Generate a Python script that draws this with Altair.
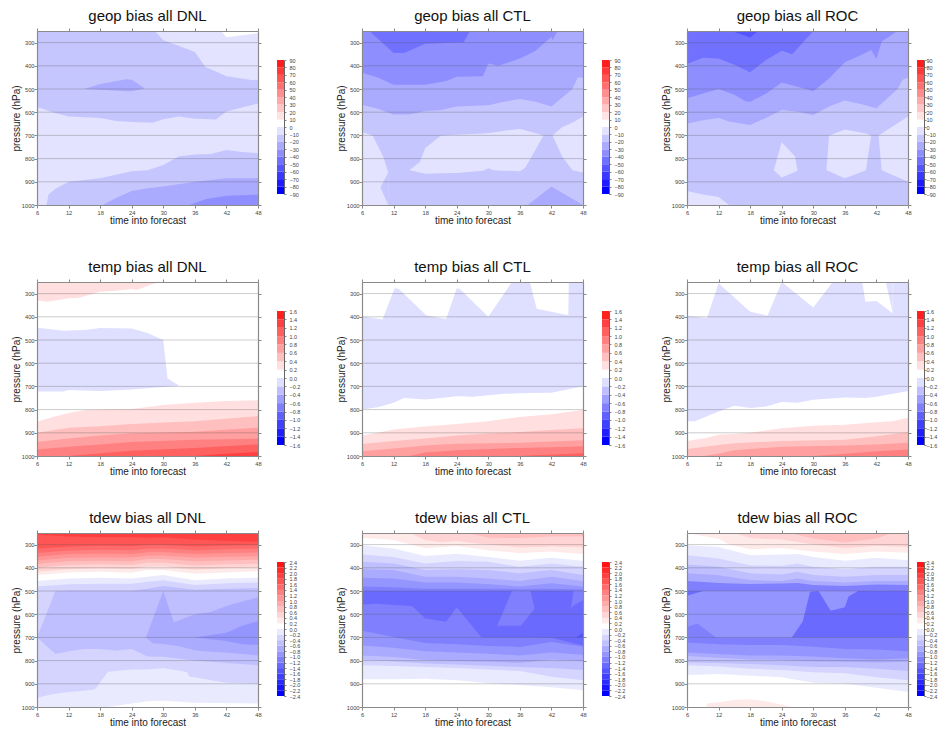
import altair as alt
import pandas as pd

FONT = "Liberation Sans"
X_TICKS = [6, 12, 18, 24, 30, 36, 42, 48]
Y_TICKS = [300, 400, 500, 600, 700, 800, 900, 1000]
GRID = [300, 400, 500, 600, 700, 800, 900]
X9 = [6, 12, 18, 24, 27, 30, 36, 42, 48]
X8 = X_TICKS

# Each region: (lower bound of its colour band, forecast hours, upper pressure edge, lower pressure edge)
GEOP_DNL = [
    (-20, [6, 48], 250, 1000),
    (-10, [28.4, 30, 33, 36, 38, 40, 42, 44, 47, 48], 250, [250, 290, 315, 340, 405, 425, 445, 452, 462, 460]),
    (0, [41, 42, 48], 250, [250, 277, 260]),
    (-30, [15, 18, 23, 24, 26.5], [500, 478, 458, 460, 498], [500, 503, 510, 510, 498]),
    (-10, [6, 9, 12, 15, 18, 21, 24, 28, 30, 33, 36, 40, 42, 48],
     [578, 600, 618, 622, 625, 638, 642, 645, 630, 618, 628, 632, 597, 562], 1000),
    (-20, [7.8, 8.2, 9.5, 12, 18, 21, 24, 27, 30, 33, 36, 39, 42, 45, 48],
     [1000, 955, 930, 900, 885, 870, 855, 850, 828, 790, 782, 780, 763, 772, 777], 1000),
    (-30, [18.5, 21, 24, 27, 30, 36, 42, 48], [1000, 970, 940, 928, 920, 900, 885, 885], 1000),
    (-40, [35, 38, 42, 48], [1000, 975, 960, 955], 1000),
]
GEOP_CTL = [
    (-20, [6, 48], 250, 1000),
    (-30, [6, 9, 12, 15, 18, 21, 24, 30, 33, 36, 39, 42, 46, 47, 48], 250,
     [568, 585, 610, 610, 595, 590, 575, 570, 555, 543, 555, 575, 500, 450, 450]),
    (-40, [6, 9, 12, 18, 22, 24, 29, 30, 32, 36, 39, 42, 42.2, 43, 44], 250,
     [430, 450, 482, 482, 465, 447, 445, 390, 400, 368, 335, 275, 290, 255, 250]),
    (-50, [7.4, 12, 14, 18, 24, 25.3, 26.5], 250, [250, 345, 345, 305, 300, 300, 250]),
    (-10, [6, 8, 9, 10, 11], [685, 700, 745, 790, 860], 1000),
    (-20, [9.5, 11], [925, 860], [925, 1000]),
    (-10, [15, 17, 18, 21, 24, 29, 30, 31, 33, 36, 37, 40.5],
     [850, 815, 755, 700, 697, 692, 690, 688, 680, 672, 678, 700],
     [850, 860, 865, 863, 862, 852, 842, 850, 852, 855, 840, 700]),
    (-10, [42.2, 44, 46, 48], [700, 665, 645, 618], [700, 790, 850, 860]),
    (-30, [37.5, 42, 48], [1000, 920, 1000], 1000),
]
GEOP_ROC = [
    (-20, [6, 48], 250, 1000),
    (-30, [6, 9, 12, 14, 18, 21, 24, 27, 30, 33, 36, 39, 42, 46, 47, 48], 250,
     [650, 635, 625, 640, 655, 625, 590, 598, 612, 575, 550, 565, 583, 500, 460, 450]),
    (-40, [6, 12, 15, 17, 18, 21, 24, 27, 30, 33, 36, 39, 41, 42, 43, 46], 250,
     [540, 500, 525, 552, 555, 520, 472, 490, 510, 455, 385, 355, 332, 370, 295, 250]),
    (-50, [6, 9, 12, 15, 18, 21, 24, 26, 30], 250, [392, 365, 368, 395, 428, 375, 335, 350, 250]),
    (-60, [14.5, 18, 19.5], 250, [250, 278, 250]),
    (-10, [6, 9, 12, 14], [940, 955, 965, 1000], 1000),
    (-10, [22.5, 24, 26.5, 27], [850, 730, 790, 850], [850, 882, 858, 850]),
    (-10, [32.5, 33, 36, 40, 41], [850, 700, 675, 692, 700], [850, 855, 885, 850, 700]),
    (-10, [42.4, 43, 48], [700, 692, 618], [700, 850, 900]),
]
TEMP_DNL = [
    (0, [6, 48], 250, 1000),
    (0.2, [6, 8, 12, 14, 18, 21, 24, 25, 29], 250, [330, 335, 320, 318, 292, 288, 280, 285, 250]),
    (-0.2, [6, 9, 11, 12, 15, 18, 24, 27, 30, 30.8, 33],
     [447, 455, 460, 459, 457, 448, 450, 470, 500, 665, 697],
     [722, 722, 722, 716, 718, 720, 713, 708, 703, 701, 697]),
    (0.2, [6, 9, 12, 15, 18, 24, 30, 36, 42, 48], [852, 832, 815, 803, 800, 797, 780, 770, 763, 760], 1000),
    (0.4, [6, 12, 18, 24, 36, 48], [900, 878, 872, 862, 850, 828], 1000),
    (0.6, [6, 12, 18, 24, 36, 48], [940, 925, 912, 902, 895, 878], 1000),
    (0.8, [6, 12, 18, 24, 36, 48], [972, 960, 950, 940, 930, 925], 1000),
    (1.0, [12, 24, 36, 48], [1000, 977, 965, 950], 1000),
    (1.2, [36, 42, 48], [1000, 990, 983], 1000),
]
TEMP_CTL = [
    (0, [6, 48], 250, 1000),
    (-0.2, [6, 9.9, 12.2, 13, 18.2, 22, 24, 24.6, 30, 34.5, 37.9, 39.2, 45.2, 45.3, 48],
     [398, 412, 277, 280, 393, 410, 277, 280, 400, 250, 250, 365, 393, 250, 250], 1000),
    (0, [6, 9, 12, 14, 18, 21, 24, 27, 30, 33, 36, 42, 45, 48],
     [800, 790, 770, 750, 757, 750, 742, 745, 738, 732, 730, 727, 713, 700], 1000),
    (0.2, [6, 9, 12, 18, 24, 30, 36, 42, 48], [912, 900, 886, 873, 862, 850, 832, 820, 802], 1000),
    (0.4, [6, 12, 18, 24, 30, 36, 42, 48], [948, 935, 925, 912, 903, 897, 888, 880], 1000),
    (0.6, [6, 12, 18, 24, 30, 36, 42, 48], [980, 968, 955, 947, 945, 943, 938, 932], 1000),
    (0.8, [15, 18, 24, 36, 42, 48], [1000, 985, 975, 965, 962, 958], 1000),
    (1.0, [36, 38, 48], [1000, 998, 988], 1000),
]
TEMP_ROC = [
    (0, [6, 48], 250, 1000),
    (-0.2, [6, 9.8, 12, 18, 21.3, 24, 30, 33.7, 39.3, 39.9, 42, 45.1, 45.2, 48],
     [395, 405, 255, 378, 395, 250, 360, 250, 250, 335, 332, 385, 250, 250], 1000),
    (-0.2, [43.8, 45.1], 250, [250, 385]),
    (0, [6, 7.5, 12, 15, 18, 21, 24, 27, 30, 36, 40, 42, 48],
     [850, 850, 808, 783, 793, 787, 767, 770, 758, 748, 750, 745, 720], 1000),
    (0.2, [6, 9, 10, 12, 15, 18, 24, 30, 36, 42, 45, 48],
     [935, 925, 920, 908, 905, 900, 880, 870, 865, 855, 850, 835], 1000),
    (0.4, [6, 12, 15, 24, 36, 42, 48], [970, 953, 945, 935, 930, 915, 898], 1000),
    (0.6, [9, 12, 15, 18, 24, 36, 42, 48], [1000, 990, 975, 970, 960, 955, 950, 943], 1000),
    (0.8, [30, 36, 42, 48], [1000, 990, 980, 972], 1000),
]
TDEW_DNL = [
    (-0.4, [6, 48], 250, 1000),
    (-0.2, X9, 250, [481, 471, 469, 469, 460, 454, 474, 467, 463]),
    (0, X9, 250, [457, 446, 443, 446, 439, 431, 454, 446, 443]),
    (0.2, X9, 250, [431, 420, 417, 421, 410, 409, 426, 420, 414]),
    (0.4, X9, 250, [417, 405, 402, 405, 395, 394, 408, 402, 398]),
    (0.6, X9, 250, [400, 388, 385, 388, 378, 378, 390, 385, 382]),
    (0.8, X9, 250, [384, 372, 370, 372, 362, 362, 372, 368, 365]),
    (1.0, X9, 250, [368, 357, 354, 356, 348, 347, 356, 352, 350]),
    (1.2, X9, 250, [352, 341, 338, 340, 333, 332, 340, 336, 334]),
    (1.4, X9, 250, [336, 325, 322, 324, 318, 317, 324, 320, 318]),
    (1.6, X9, 250, [318, 308, 305, 307, 302, 302, 308, 304, 302]),
    (1.8, X9, 250, [258, 265, 268, 268, 270, 268, 278, 283, 288]),
    (-0.6, [6, 9.5, 12, 15, 18, 21, 24, 27, 30, 36, 42, 48],
     [700, 500, 498, 498, 498, 498, 498, 490, 478, 495, 490, 487],
     [700, 772, 760, 750, 750, 757, 750, 782, 783, 800, 810, 820]),
    (-0.8, [26.7, 28, 30, 32, 33, 36, 39, 42, 45, 48],
     [700, 621, 500, 635, 626, 600, 590, 565, 545, 528],
     [700, 725, 728, 735, 738, 755, 762, 765, 772, 778]),
    (-1.0, [36, 42, 45, 48], [700, 680, 650, 630], [700, 715, 730, 732]),
    (-0.2, [6, 9, 12, 15, 17, 19.5, 24, 27, 30, 33, 34.5, 35, 36, 39, 42, 48],
     [960, 945, 935, 930, 925, 848, 838, 838, 833, 843, 850, 870, 872, 885, 895, 900], 1000),
    (0, [19.5, 24, 27, 30, 36, 48], [1000, 985, 975, 973, 982, 985], 1000),
]
TDEW_CTL = [
    (-1.2, [6, 48], 250, 1000),
    (-1.0, X8, 250, [481, 484, 490, 490, 490, 492, 490, 493]),
    (-0.8, X8, 250, [443, 446, 463, 463, 471, 481, 467, 481]),
    (-0.6, X8, 250, [406, 410, 439, 439, 446, 457, 439, 457]),
    (-0.4, X8, 250, [374, 381, 410, 406, 410, 424, 410, 431]),
    (-0.2, X8, 250, [343, 353, 381, 371, 374, 396, 381, 396]),
    (0, X8, 250, [303, 317, 349, 339, 353, 370, 357, 370]),
    (0.2, [6, 9, 12, 15, 18, 24, 30, 36, 42, 48], 250, [270, 275, 280, 298, 316, 306, 324, 337, 330, 340]),
    (0.4, [15, 18, 21, 24, 27, 30, 36, 42, 48], 250, [250, 280, 290, 285, 293, 300, 312, 308, 312]),
    (0.6, [26, 30, 36, 42, 48], 250, [250, 270, 272, 265, 265]),
    (-1.4, [6, 9, 12, 15.5, 18, 22, 24, 28.7, 36, 42, 48], 500,
     [558, 555, 560, 565, 618, 633, 570, 700, 700, 702, 735]),
    (-1.2, [31.7, 34.5, 36.2, 38, 38.8], [650, 500, 500, 500, 575], [650, 650, 650, 598, 575]),
    (-1.2, [45.7, 46.2, 48], [575, 500, 500], [575, 562, 540]),
    (-1.6, [46.7, 48], [700, 680], 700),
    (-1.0, X8, [671, 698, 724, 730, 737, 741, 720, 739], 1000),
    (-0.8, X8, [735, 745, 760, 765, 770, 778, 765, 775], 1000),
    (-0.6, X8, [778, 785, 797, 802, 805, 810, 795, 803], 1000),
    (-0.4, X8, [797, 803, 813, 817, 822, 828, 832, 841], 1000),
    (-0.2, X8, [820, 823, 828, 832, 838, 845, 870, 885], 1000),
    (0, X8, [880, 880, 878, 885, 898, 905, 915, 928], 1000),
]
TDEW_ROC = [
    (-1.0, [6, 48], 250, 1000),
    (-1.2, [6, 48], 250, 500),
    (-0.8, X9, 250, [457, 465, 470, 468, 465, 474, 478, 472, 474]),
    (-0.6, X9, 250, [424, 432, 453, 457, 446, 457, 463, 457, 457]),
    (-0.4, X9, 250, [386, 396, 424, 429, 417, 431, 439, 431, 431]),
    (-0.2, X9, 250, [346, 360, 389, 391, 381, 396, 406, 396, 396]),
    (0, X9, 250, [303, 310, 346, 343, 340, 353, 370, 357, 367]),
    (0.2, [6, 12, 14, 18, 24, 30, 36, 42, 48], 250, [250, 275, 300, 320, 315, 330, 340, 330, 335]),
    (0.4, [15, 18, 24, 30, 36, 42, 48], 250, [250, 272, 278, 300, 315, 305, 310]),
    (0.6, [25.5, 30, 36, 42, 45], 250, [250, 274, 291, 274, 250]),
    (-1.4, [6, 9], 500, [520, 500]),
    (-1.2, [6, 8, 11.5, 26, 48], [655, 640, 700, 700, 700], 1000),
    (-1.4, [25.9, 28, 29.4, 31, 33.3, 36, 36.7, 38.5, 48],
     [700, 632, 503, 500, 585, 570, 524, 500, 500], 700),
    (-1.0, X8, [722, 730, 733, 733, 740, 750, 752, 760], 1000),
    (-0.8, X8, [765, 772, 778, 778, 782, 790, 795, 790], 1000),
    (-0.6, X8, [780, 788, 795, 797, 803, 805, 808, 805], 1000),
    (-0.4, X8, [808, 810, 815, 820, 828, 828, 835, 845], 1000),
    (-0.2, X8, [820, 825, 835, 840, 850, 855, 872, 885], 1000),
    (0, X8, [862, 858, 865, 872, 896, 900, 917, 935], 1000),
    (0.2, [9.7, 9.8, 12, 15, 18, 21, 24, 26], [1000, 985, 980, 970, 967, 975, 990, 1000], 1000),
]

VARS = {"geop": (90, 10, "d"), "temp": (1.6, 0.2, ".1f"), "tdew": (2.4, 0.2, ".1f")}
RUNS = ["DNL", "CTL", "ROC"]
PANELS = {
    ("geop", "DNL"): GEOP_DNL, ("geop", "CTL"): GEOP_CTL, ("geop", "ROC"): GEOP_ROC,
    ("temp", "DNL"): TEMP_DNL, ("temp", "CTL"): TEMP_CTL, ("temp", "ROC"): TEMP_ROC,
    ("tdew", "DNL"): TDEW_DNL, ("tdew", "CTL"): TDEW_CTL, ("tdew", "ROC"): TDEW_ROC,
}

GREY = "#8a8a8a"
TXT = "#444444"
W, H = 221, 174
BAR_W = 7
BAR_GAP, CELL_W = 19, 104          # colour bars of the first two columns
LAST_GAP, LAST_CELL_W = 9, 16      # third column: bar moved in so that its labels stay on the page
BAR_TOP, BAR_BOTTOM = 29, 163


def palette(top, step):
    n = round(top / step)
    blues = []
    for k in range(n, 0, -1):
        g = round(255 * (1 - k / n))
        blues.append(f"rgb({g},{g},255)")
    reds = []
    for k in range(0, n):
        g = round(255 * (1 - k / n))
        reds.append(f"rgb(255,{g},{g})")
    return blues + reds


def band_scale(top, step):
    n = round(top / step)
    dom = [round((i - n + 1) * step, 3) for i in range(2 * n - 1)]
    return alt.Scale(type="threshold", domain=dom, range=palette(top, step))


def table(regions, step):
    rows = []
    for rid, (lo, xs, tops, bots) in enumerate(regions):
        for i, x in enumerate(xs):
            t = tops[i] if isinstance(tops, list) else tops
            b = bots[i] if isinstance(bots, list) else bots
            rows.append(dict(region=rid, mid=lo + step / 2, t=x, top=t, bot=b))
    return pd.DataFrame(rows)


XS = alt.Scale(domain=[6, 48], nice=False, zero=False)
YS = alt.Scale(domain=[250, 1000], reverse=True, nice=False, zero=False)
common = dict(tickColor=GREY, domainColor=GREY, domainWidth=1.2, tickSize=3, zindex=1, grid=False)
NO_FRAME = alt.ViewConfig(stroke="transparent")


def panel(var, run):
    top, step, _ = VARS[var]
    df = table(PANELS[(var, run)], step)
    areas = alt.Chart(df).mark_area(interpolate="linear", strokeWidth=0).encode(
        x=alt.X("t:Q", scale=XS, axis=alt.Axis(
            orient="bottom", values=X_TICKS, title="time into forecast", labelFontSize=5.7, labelColor=TXT,
            titleFontSize=10, titleFontWeight="normal", titleColor="#222222", titlePadding=1, labelPadding=1,
            labelFlush=False, labelOverlap=False, format="d", **common)),
        y=alt.Y("top:Q", scale=YS, axis=alt.Axis(
            orient="left", values=Y_TICKS, title="pressure (hPa)", labelFontSize=5.7, labelColor=TXT,
            titleFontSize=10, titleFontWeight="normal", titleColor="#222222", titlePadding=0, labelPadding=0,
            labelOverlap=False, format="d", **common)),
        y2="bot:Q",
        color=alt.Color("mid:Q", scale=band_scale(top, step), legend=None),
        detail="region:N",
    )
    rules = alt.Chart(pd.DataFrame({"p": GRID})).mark_rule(color="#555555", opacity=0.3, strokeWidth=1).encode(
        y=alt.Y("p:Q", scale=YS, axis=alt.Axis(
            orient="right", values=Y_TICKS, title=None, labels=False, **common)),
    )
    top_axis = alt.Chart(pd.DataFrame({"h": X_TICKS})).mark_rule(opacity=0).encode(
        x=alt.X("h:Q", scale=XS, axis=alt.Axis(
            orient="top", values=X_TICKS, title=None, labels=False, **common)),
        y=alt.value(0), y2=alt.value(1),
    )
    return alt.layer(areas, rules, top_axis).resolve_axis(x="independent", y="independent").properties(
        width=W, height=H, view=NO_FRAME,
        title=alt.TitleParams(f"{var} bias all {run}", fontSize=15, fontWeight="normal", color="#111111",
                              font=FONT, offset=4, anchor="middle"),
    )


def colorbar(var, gap, cell_w, label_pad):
    top, step, fmt = VARS[var]
    n = round(top / step)
    lows = [round((i - n) * step, 3) for i in range(2 * n)]
    ticks = [round((i - n) * step, 3) for i in range(2 * n + 1)]
    df = pd.DataFrame({"lo": lows, "hi": [round(v + step, 3) for v in lows], "mid": [v + step / 2 for v in lows]})
    return alt.Chart(df).mark_rect(strokeWidth=0).encode(
        x=alt.value(gap), x2=alt.value(gap + BAR_W),
        y=alt.Y("lo:Q", scale=alt.Scale(domain=[-top, top], range=[BAR_BOTTOM, BAR_TOP], nice=False, zero=False),
                axis=alt.Axis(orient="right", values=ticks, title=None, format=fmt, labelFontSize=5.5, labelColor=TXT,
                              offset=gap + BAR_W - cell_w,
                              labelPadding=label_pad, labelOverlap=False, labelFlush=False, tickSize=2, tickColor=GREY,
                              domainColor="#666666", zindex=1, grid=False)),
        y2="hi:Q",
        color=alt.Color("mid:Q", scale=band_scale(top, step), legend=None),
    ).properties(width=cell_w, height=H, view=NO_FRAME)


cells = []
for var in VARS:
    for run in RUNS:
        cells.append(panel(var, run))
        if run == RUNS[-1]:
            cells.append(colorbar(var, LAST_GAP, LAST_CELL_W, 0))
        else:
            cells.append(colorbar(var, BAR_GAP, CELL_W, 3))

chart = alt.concat(*cells, columns=6, spacing={"row": 77, "column": 0}, bounds="flush", align="each").properties(
    padding={"left": 2, "top": 0, "right": 0, "bottom": 0},
).resolve_scale(color="independent").configure_view(stroke=None).configure(font=FONT)

chart.save("out.html", embed_options={"renderer": "svg", "actions": False})
